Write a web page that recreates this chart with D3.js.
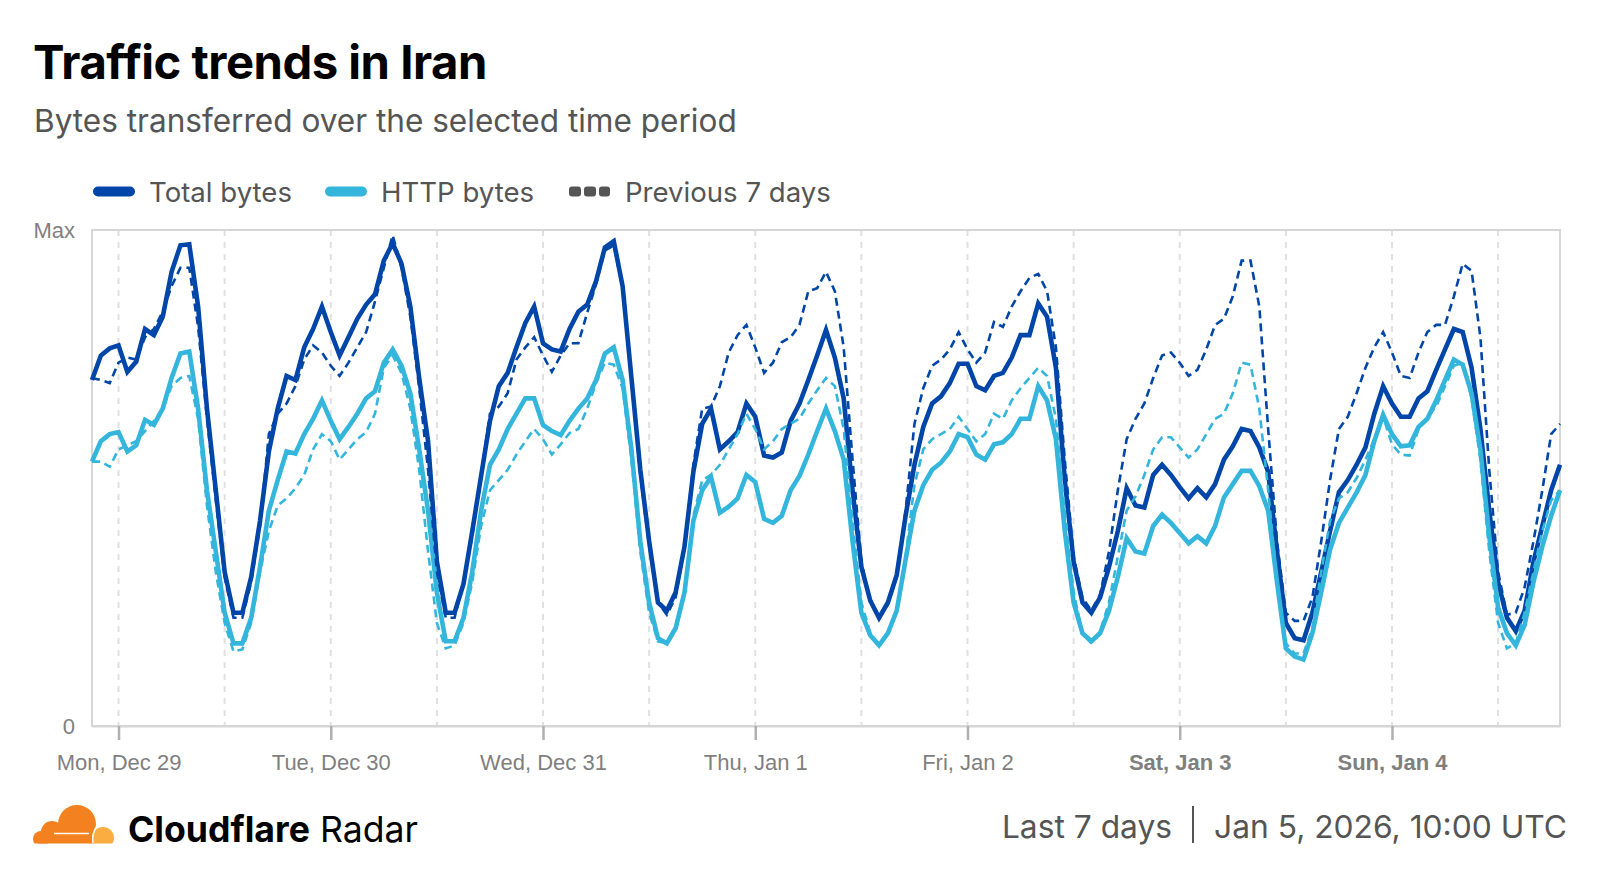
<!DOCTYPE html>
<html><head><meta charset="utf-8">
<script src="https://cdn.jsdelivr.net/npm/d3@7"></script>
<style>
html,body{margin:0;padding:0;background:#fff;}
svg{display:block;}
</style></head><body>
<svg id="chart" width="1600" height="876"></svg>
<script>
// ---------------- DATA ----------------
const titleText = "Traffic trends in Iran";
const subtitleText = "Bytes transferred over the selected time period";
const seriesNames = ["Total bytes", "HTTP bytes", "Previous 7 days"];
const startTime = "2025-12-28T21:00:00Z"; // first hourly sample
const dayTicks = ["2025-12-29","2025-12-30","2025-12-31","2026-01-01","2026-01-02","2026-01-03","2026-01-04"];
const dayLabels = ["Mon, Dec 29","Tue, Dec 30","Wed, Dec 31","Thu, Jan 1","Fri, Jan 2","Sat, Jan 3","Sun, Jan 4"];
const yTickLabels = ["0", "Max"];
const MAX_VALUE = 486; // relative units, "Max" of the chart

const totalBytes = [
339,363,370,373,347,357,389,383,401,445,
471,472,411,311,231,151,111,111,146,201,
269,311,343,339,371,389,411,386,363,381,
399,413,423,456,473,453,411,341,279,161,
111,111,139,191,245,299,333,346,371,395,
411,375,369,367,389,406,413,436,469,475,
431,341,251,181,121,113,131,176,249,296,
311,271,279,288,316,303,265,263,268,299,
316,339,363,388,361,321,231,156,123,106,
121,148,206,256,293,316,323,336,355,355,
333,329,343,346,361,383,383,414,401,351,
241,161,121,111,126,156,191,233,216,214,
246,256,246,234,223,233,224,237,261,274,
291,289,273,249,171,101,86,84,111,151,
191,229,241,256,273,306,333,316,303,303,
321,328,349,369,389,386,351,291,211,141,
106,93,113,161,196,231,256];

const httpBytes = [
259,279,286,288,269,275,300,295,311,341,
365,367,311,231,171,111,81,81,106,156,
211,241,269,267,286,301,319,299,281,293,
306,321,328,356,369,353,326,271,211,131,
83,83,106,151,211,256,271,291,306,321,
321,295,289,285,299,311,321,339,365,371,
339,271,181,121,86,81,96,131,201,231,
244,209,215,223,246,239,203,199,206,231,
245,266,289,311,289,261,181,111,89,79,
91,113,163,211,236,251,258,269,286,283,
266,261,276,278,286,301,301,333,319,281,
191,121,91,83,91,113,146,184,171,169,
196,207,199,189,179,186,179,196,224,237,
250,250,235,211,141,76,68,65,91,131,
173,199,214,229,246,279,305,286,274,275,
293,301,319,339,359,354,326,271,186,116,
91,79,99,141,176,206,231];

const prevTotalBytes = [
341,339,336,356,361,359,381,389,406,431,
449,449,391,301,221,146,106,106,141,196,
286,306,316,333,359,373,366,353,343,356,
371,386,416,449,481,449,401,331,251,151,
106,106,141,186,246,306,313,326,359,371,
381,363,347,363,375,375,405,433,466,471,
429,341,246,176,121,109,126,176,256,311,
313,333,366,383,393,371,346,356,376,381,
393,426,429,445,426,371,261,161,121,106,
119,146,211,296,331,353,359,369,386,369,
356,366,396,391,411,426,439,443,426,371,
261,166,126,113,129,171,231,281,301,316,
341,363,366,356,343,349,369,393,399,421,
456,456,411,291,181,111,103,103,126,181,
241,291,303,326,351,371,386,366,343,341,
366,386,393,393,421,453,446,381,251,151,
109,111,136,181,231,286,296];

const prevHttpBytes = [
259,259,254,271,275,279,289,299,311,333,
341,343,301,216,151,101,73,75,101,151,
191,216,223,233,246,271,286,279,261,271,
281,288,306,351,363,346,311,251,171,101,
76,79,101,141,196,231,241,251,266,279,
291,281,266,276,287,291,311,336,356,354,
331,261,171,111,83,81,93,131,206,241,
246,256,271,286,306,291,271,279,291,296,
301,316,329,341,333,291,201,121,91,79,
91,115,166,236,271,281,286,291,303,291,
279,286,306,301,319,331,341,351,343,301,
211,131,91,81,93,121,166,211,225,246,
271,283,283,273,263,271,286,301,306,326,
356,354,311,231,141,81,71,71,96,151,
201,223,229,243,261,281,303,276,266,265,
291,303,313,333,353,356,321,261,171,101,
76,81,111,151,191,221,231];

// ---------------- STYLE / LAYOUT ----------------
const W = 1600, H = 876;
const plot = {left: 92, right: 1560, top: 230, bottom: 726};
const DARK = "#0046a8", LIGHT = "#33b5dc", GREY_TXT = "#555555", AXIS_TXT = "#7f7f7f";
const SANS = "Inter, 'Noto Sans', sans-serif";
const AXIS_FONT = "'Liberation Sans', Arial, sans-serif";

const svg = d3.select("#chart");

function fitWidth(sel, target) {
  const node = sel.node();
  const fs = parseFloat(sel.attr("font-size"));
  const w = node.getComputedTextLength();
  sel.attr("font-size", (fs * target / w).toFixed(2));
  return fs * target / w;
}

// Title & subtitle
const title = svg.append("text").attr("x", 33).attr("y", 79)
  .attr("font-family", SANS).attr("font-weight", 700).attr("font-size", 48)
  .attr("letter-spacing", "-0.5").attr("fill", "#000").text(titleText);
fitWidth(title, 454);
const sub = svg.append("text").attr("x", 34).attr("y", 132)
  .attr("font-family", SANS).attr("font-weight", 400).attr("font-size", 32)
  .attr("fill", GREY_TXT).text(subtitleText);
fitWidth(sub, 703);

// Legend
const legend = svg.append("g");
const legY = 191.5;
legend.append("line").attr("x1", 98).attr("x2", 130).attr("y1", legY).attr("y2", legY)
  .attr("stroke", DARK).attr("stroke-width", 10).attr("stroke-linecap", "round");
legend.append("line").attr("x1", 330).attr("x2", 362).attr("y1", legY).attr("y2", legY)
  .attr("stroke", LIGHT).attr("stroke-width", 10).attr("stroke-linecap", "round");
[[569,581],[584,596],[599,610]].forEach(([a,b]) => {
  legend.append("rect").attr("x", a).attr("y", legY - 5).attr("width", b - a).attr("height", 10)
    .attr("rx", 3).attr("fill", "#555");
});
const l1 = legend.append("text").attr("x", 149).attr("y", 202).attr("font-family", SANS)
  .attr("font-size", 28).attr("fill", GREY_TXT).text(seriesNames[0]);
const legFs = fitWidth(l1, 143);
legend.append("text").attr("x", 381).attr("y", 202).attr("font-family", SANS)
  .attr("font-size", legFs).attr("fill", GREY_TXT).text(seriesNames[1]);
legend.append("text").attr("x", 625).attr("y", 202).attr("font-family", SANS)
  .attr("font-size", legFs).attr("fill", GREY_TXT).text(seriesNames[2]);

// Scales
const t0 = new Date(startTime);
const n = totalBytes.length;
const tEnd = d3.utcHour.offset(t0, n - 1);
const x = d3.scaleUtc().domain([t0, tEnd]).range([plot.left, plot.right]);
const y = d3.scaleLinear().domain([0, MAX_VALUE]).range([plot.bottom, plot.top]);

// Grid lines every 12h
const gridTimes = d3.utcHour.every(12).range(t0, d3.utcHour.offset(tEnd, 1));
svg.append("g").selectAll("line").data(gridTimes).join("line")
  .attr("x1", d => x(d)).attr("x2", d => x(d))
  .attr("y1", plot.top).attr("y2", plot.bottom)
  .attr("stroke", "#e0e0e0").attr("stroke-width", 2).attr("stroke-dasharray", "6,6");

// Frame
svg.append("rect").attr("x", plot.left).attr("y", plot.top)
  .attr("width", plot.right - plot.left).attr("height", plot.bottom - plot.top)
  .attr("fill", "none").attr("stroke", "#d6d6d6").attr("stroke-width", 2);

// X axis
const tickDates = dayTicks.map(s => new Date(s + "T00:00:00Z"));
const xAxis = d3.axisBottom(x).tickValues(tickDates)
  .tickFormat((d, i) => dayLabels[i]).tickSizeInner(14).tickSizeOuter(0).tickPadding(14);
const gx = svg.append("g").attr("transform", `translate(0,${plot.bottom})`).call(xAxis);
gx.select(".domain").attr("stroke", "#d6d6d6").attr("stroke-width", 2);
gx.selectAll(".tick line").attr("stroke", "#b0b0b0").attr("stroke-width", 2.5);
gx.selectAll(".tick text").attr("font-family", AXIS_FONT).attr("font-size", 22)
  .attr("fill", AXIS_TXT)
  .attr("font-weight", d => (d.getUTCDay() === 0 || d.getUTCDay() === 6) ? 700 : 400);

// Y axis labels
const yAxis = d3.axisLeft(y).tickValues([0, MAX_VALUE])
  .tickFormat(d => d === 0 ? yTickLabels[0] : yTickLabels[1]).tickSize(0).tickPadding(17);
const gy = svg.append("g").attr("transform", `translate(${plot.left},0)`).call(yAxis);
gy.select(".domain").remove();
gy.selectAll(".tick text").attr("font-family", AXIS_FONT).attr("font-size", 22).attr("fill", AXIS_TXT);

// Lines
const line = d3.line().x((d, i) => x(d3.utcHour.offset(t0, i))).y(d => y(d));
const series = [
  {data: totalBytes, color: DARK, width: 4.6, dash: null},
  {data: httpBytes, color: LIGHT, width: 4.6, dash: null},
  {data: prevTotalBytes, color: DARK, width: 2.6, dash: "8,5"},
  {data: prevHttpBytes, color: LIGHT, width: 2.6, dash: "8,5"}
];
svg.append("g").selectAll("path").data(series).join("path")
  .attr("d", d => line(d.data)).attr("fill", "none")
  .attr("stroke", d => d.color).attr("stroke-width", d => d.width)
  .attr("stroke-dasharray", d => d.dash).attr("stroke-linejoin", "miter");

// Footer logo (cloud)
const logo = svg.append("g");
const clip = svg.append("clipPath").attr("id", "logoClip");
clip.append("rect").attr("x", 30).attr("y", 790).attr("width", 90).attr("height", 53.5);
const lg = logo.append("g").attr("clip-path", "url(#logoClip)");
lg.append("circle").attr("cx", 103).attr("cy", 838).attr("r", 11).attr("fill", "#fbad41");
lg.append("circle").attr("cx", 77).attr("cy", 824).attr("r", 19).attr("fill", "#f48120");
lg.append("circle").attr("cx", 52).attr("cy", 832).attr("r", 11).attr("fill", "#f48120");
lg.append("circle").attr("cx", 41).attr("cy", 839).attr("r", 8).attr("fill", "#f48120");
lg.append("rect").attr("x", 38).attr("y", 832).attr("width", 56).attr("height", 12).attr("fill", "#f48120");
lg.append("line").attr("x1", 54).attr("x2", 89).attr("y1", 833.5).attr("y2", 833.5)
  .attr("stroke", "#fff").attr("stroke-width", 1.6);
lg.append("path").attr("d", "M93,843 C92,836 94,830 97,826").attr("fill", "none")
  .attr("stroke", "#fff").attr("stroke-width", 1.6);

const brand = svg.append("text").attr("x", 128).attr("y", 842)
  .attr("font-family", SANS).attr("font-size", 36).attr("fill", "#000");
brand.append("tspan").attr("font-weight", 700).text("Cloudflare");
brand.append("tspan").attr("font-weight", 400).text(" Radar");
fitWidth(brand, 290);

// Footer right
const rightDate = svg.append("text").attr("x", 1567).attr("y", 838).attr("text-anchor", "end")
  .attr("font-family", SANS).attr("font-size", 32).attr("fill", GREY_TXT).text("Jan 5, 2026, 10:00 UTC");
const rfs = fitWidth(rightDate, 353);
svg.append("line").attr("x1", 1193).attr("x2", 1193).attr("y1", 806).attr("y2", 843)
  .attr("stroke", GREY_TXT).attr("stroke-width", 2);
svg.append("text").attr("x", 1172).attr("y", 838).attr("text-anchor", "end")
  .attr("font-family", SANS).attr("font-size", rfs).attr("fill", GREY_TXT).text("Last 7 days");
</script>
</body></html>
